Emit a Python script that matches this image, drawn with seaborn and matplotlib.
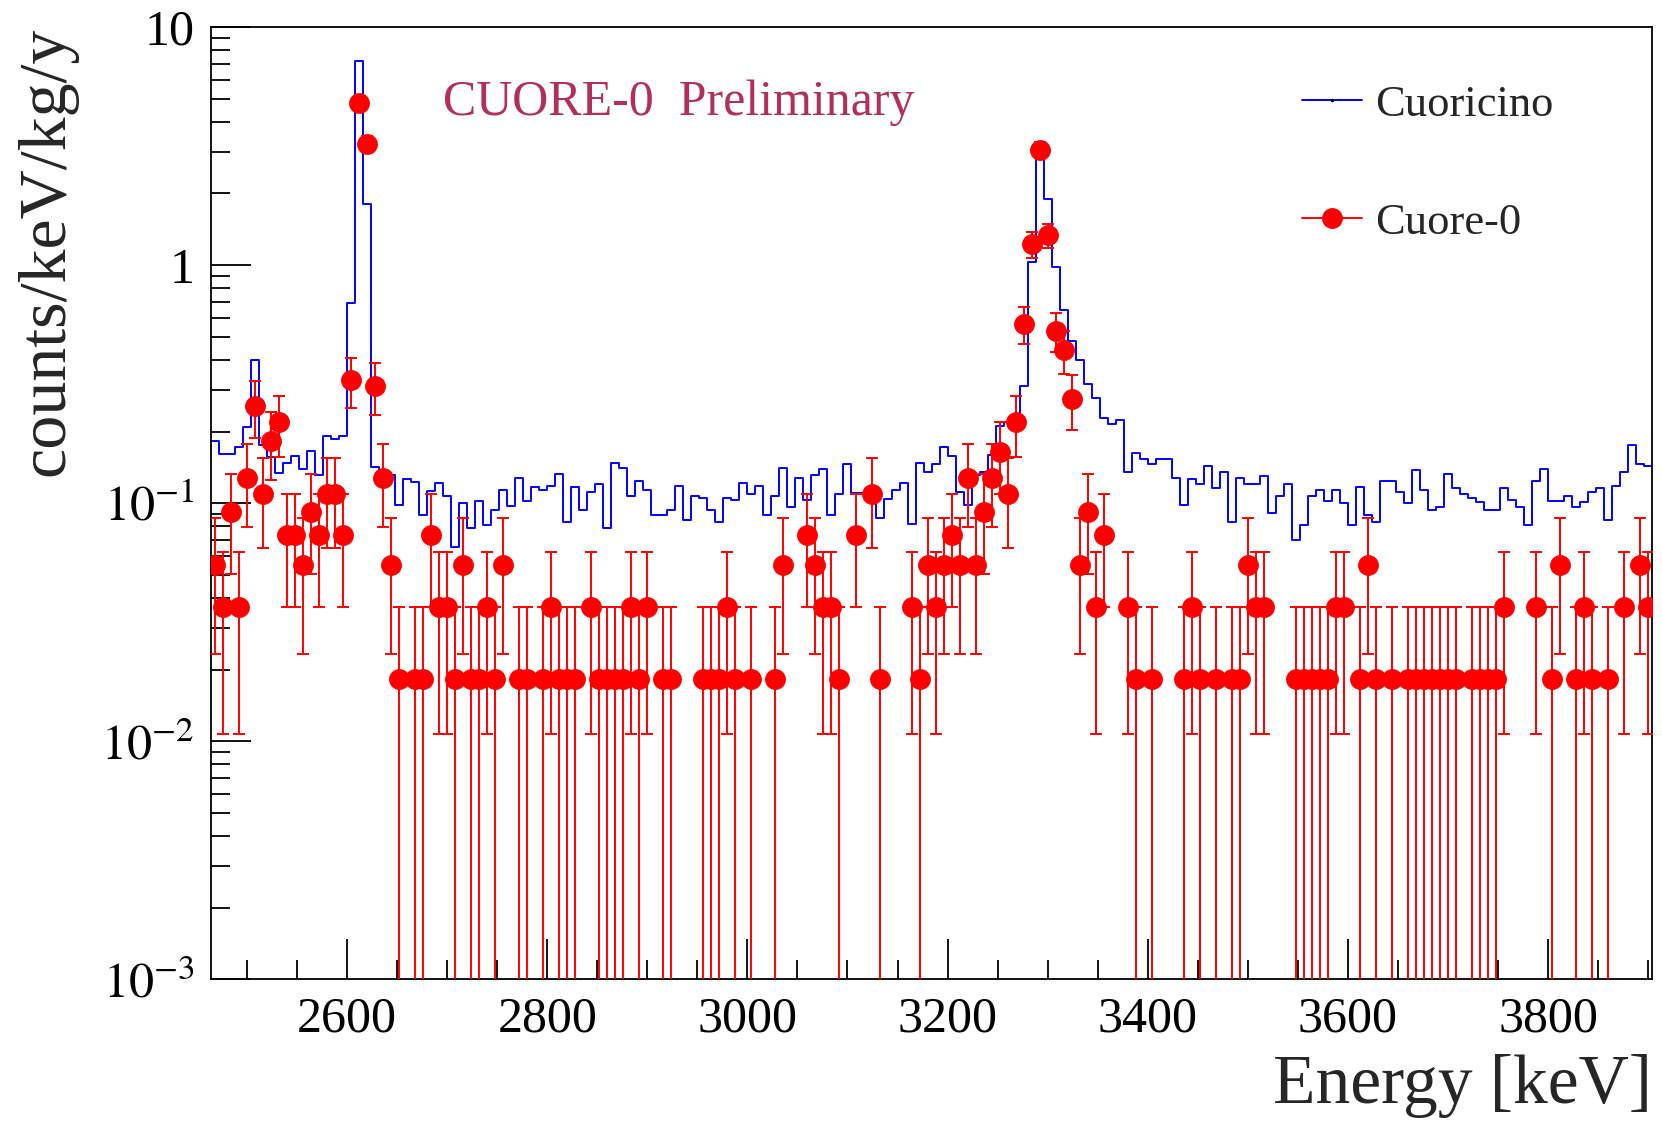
import numpy as np
import pandas as pd
import matplotlib
matplotlib.use("Agg")
import matplotlib.pyplot as plt
import seaborn as sns
from matplotlib.lines import Line2D
from matplotlib.ticker import FixedLocator, MultipleLocator, NullFormatter, FixedFormatter

# binning of both spectra (keV)
bin_start = 2464
bin_width = 8
n_bins = 180

# Cuoricino spectrum, counts/keV/kg/y per bin
cuoricino = [
    0.183, 0.161, 0.161, 0.172, 0.209, 0.40, 0.175, 0.157, 0.134, 0.147,
    0.158, 0.139, 0.166, 0.131, 0.192, 0.186, 0.192, 0.69, 7.2, 1.81,
    0.142, 0.131, 0.131, 0.098, 0.126, 0.123, 0.089, 0.113, 0.121, 0.107,
    0.0655, 0.100, 0.0786, 0.102, 0.0807, 0.0938, 0.114, 0.0978, 0.128, 0.102,
    0.117, 0.114, 0.118, 0.133, 0.083, 0.117, 0.094, 0.111, 0.120, 0.0786,
    0.148, 0.140, 0.107, 0.124, 0.114, 0.0894, 0.0894, 0.094, 0.118, 0.085,
    0.107, 0.105, 0.094, 0.083, 0.105, 0.103, 0.122, 0.109, 0.118, 0.089,
    0.107, 0.141, 0.096, 0.128, 0.103, 0.131, 0.139, 0.089, 0.109, 0.146,
    0.110, 0.110, 0.110, 0.087, 0.104, 0.114, 0.122, 0.082, 0.148, 0.135,
    0.146, 0.172, 0.158, 0.111, 0.098, 0.131, 0.135, 0.159, 0.211, 0.22,
    0.22, 0.31, 1.035, 3.0, 1.89, 0.98, 0.65, 0.48, 0.40, 0.316,
    0.277, 0.227, 0.215, 0.223, 0.135, 0.163, 0.154, 0.146, 0.153, 0.153,
    0.127, 0.098, 0.126, 0.120, 0.143, 0.116, 0.135, 0.083, 0.127, 0.120,
    0.120, 0.130, 0.091, 0.107, 0.120, 0.0698, 0.081, 0.107, 0.114, 0.102,
    0.114, 0.100, 0.081, 0.117, 0.089, 0.083, 0.124, 0.124, 0.111, 0.100,
    0.138, 0.114, 0.094, 0.096, 0.133, 0.116, 0.109, 0.105, 0.101, 0.094,
    0.094, 0.116, 0.103, 0.096, 0.081, 0.124, 0.139, 0.102, 0.102, 0.107,
    0.096, 0.101, 0.111, 0.116, 0.085, 0.118, 0.135, 0.175, 0.146, 0.143,
]

# Cuore-0 counts per bin, one count = rate_per_count counts/keV/kg/y
cuore0_counts = [
    3, 2, 5, 2, 7, 14, 6, 10, 12, 4,
    4, 3, 5, 4, 6, 6, 4, 18, 261, 177,
    17, 7, 3, 1, 0, 1, 1, 4, 2, 2,
    1, 3, 1, 1, 2, 1, 3, 0, 1, 1,
    0, 1, 2, 1, 1, 1, 0, 2, 1, 1,
    1, 1, 2, 1, 2, 0, 1, 1, 0, 0,
    0, 1, 1, 1, 2, 1, 0, 1, 0, 0,
    1, 3, 0, 0, 4, 3, 2, 2, 1, 0,
    4, 0, 6, 1, 0, 0, 0, 2, 1, 3,
    2, 3, 4, 3, 7, 3, 5, 7, 9, 6,
    12, 31, 67, 167, 73, 29, 24, 15, 3, 5,
    2, 4, 0, 0, 2, 1, 0, 1, 0, 0,
    0, 1, 2, 1, 0, 1, 0, 1, 1, 3,
    2, 2, 0, 0, 0, 1, 1, 1, 1, 1,
    2, 2, 0, 1, 3, 1, 0, 1, 0, 1,
    1, 1, 1, 1, 1, 1, 0, 1, 1, 1,
    1, 2, 0, 0, 0, 2, 0, 1, 3, 0,
    1, 2, 1, 0, 1, 0, 2, 0, 3, 2,
]
rate_per_count = 0.0183

xticks = [2600, 2800, 3000, 3200, 3400, 3600, 3800]
yticks = [1e-3, 1e-2, 1e-1, 1, 10]
ytick_labels = [r"$10^{-3}$", r"$10^{-2}$", r"$10^{-1}$", "1", "10"]

edges = bin_start + bin_width * np.arange(n_bins + 1)
centers = edges[:-1] + bin_width / 2
spec = pd.DataFrame({"energy": centers, "rate": cuoricino})

counts = np.array(cuore0_counts, dtype=float)
keep = counts > 0
c0_x = centers[keep]
c0_y = counts[keep] * rate_per_count
c0_err = np.sqrt(counts[keep]) * rate_per_count

sns.set_theme(style="ticks")
plt.rcParams["font.family"] = ["Liberation Serif", "DejaVu Serif"]
plt.rcParams["mathtext.fontset"] = "stix"

fig = plt.figure(figsize=(16.62, 11.27), dpi=100)
ax = fig.add_axes([0.127, 0.131, 0.867, 0.845])

sns.histplot(data=spec, x="energy", weights="rate", bins=list(edges), element="step",
             fill=False, color="blue", linewidth=1.4, ax=ax)
ax.errorbar(c0_x, c0_y, yerr=c0_err, fmt="o", color="red", ms=14,
            elinewidth=1.4, capsize=4.3, capthick=1.4, zorder=3)

ax.set_yscale("log")
ax.set_xlim(edges[0], edges[-1])
ax.set_ylim(1e-3, 10)

ax.xaxis.set_major_locator(FixedLocator(xticks))
ax.xaxis.set_minor_locator(MultipleLocator(50))
ax.yaxis.set_major_locator(FixedLocator(yticks))
ax.yaxis.set_major_formatter(FixedFormatter(ytick_labels))
minor_y = [m * 10.0 ** e for e in range(-3, 1) for m in range(2, 10)]
ax.yaxis.set_minor_locator(FixedLocator(minor_y))
ax.yaxis.set_minor_formatter(NullFormatter())

ax.tick_params(which="both", direction="in", top=False, right=False, width=1.3,
               colors="black", labelsize=36)
ax.tick_params(which="major", length=29)
ax.tick_params(which="minor", length=14)
ax.tick_params(axis="x", pad=12)
ax.tick_params(axis="y", pad=12)
for s in ax.spines.values():
    s.set_linewidth(1.3)
    s.set_color("black")

ax.set_xlabel("Energy [keV]", fontsize=50, loc="right")
ax.xaxis.set_label_coords(1.0, -0.078)
ax.set_ylabel("counts/keV/kg/y", fontsize=49, loc="top")
ax.yaxis.set_label_coords(-0.093, 1.0)

ax.text(0.161, 0.921, "CUORE-0  Preliminary", transform=ax.transAxes,
        fontsize=36, color="#b22e5e", va="center", ha="left")

handles = [
    Line2D([], [], color="blue", lw=1.4, marker=".", ms=3,
           markerfacecolor="black", markeredgecolor="black"),
    Line2D([], [], color="red", lw=1.4, marker="o", ms=14),
]
ax.legend(handles, ["Cuoricino", "Cuore-0"], loc="upper left",
          bbox_to_anchor=(0.7834, 0.925), bbox_transform=fig.transFigure,
          frameon=False, borderaxespad=0, borderpad=0, handlelength=1.35,
          handletextpad=0.3, labelspacing=1.75, fontsize=32)

fig.savefig("out.png", dpi=100)
